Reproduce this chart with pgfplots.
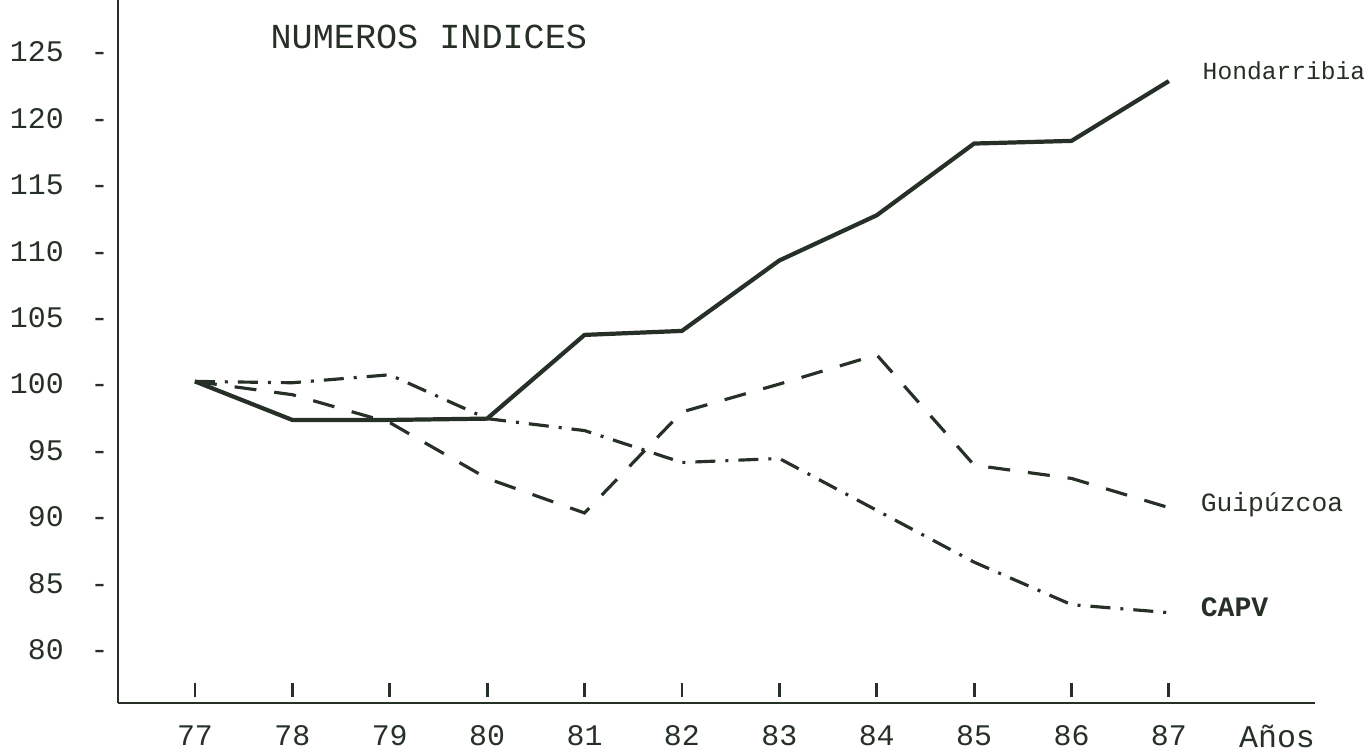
\documentclass[border=0pt]{standalone}
\usepackage{fontspec}
\setmainfont{Liberation Mono}
\usepackage{pgfplots}
\pgfplotsset{compat=1.18}

\definecolor{ink}{RGB}{38,48,38}

\begin{document}
\begin{tikzpicture}
% page = 1364 x 752 px at 0.1 mm per px, axis box origin at px (118,703)
\useasboundingbox (-1.18cm,-0.49cm) rectangle (12.46cm,7.03cm);
\begin{axis}[
    scale only axis,
    width=11.97cm,
    height=7.03cm,
    xmin=76.21, xmax=88.5,
    ymin=76, ymax=128.9,
    axis x line*=bottom,
    axis y line*=left,
    axis line style={ink, line width=0.7pt},
    clip=false,
    xtick={77,...,87},
    ytick={80,85,...,125},
    yticklabels={80\hspace{0.9em}-,85\hspace{0.9em}-,90\hspace{0.9em}-,95\hspace{0.9em}-,100\hspace{0.9em}-,105\hspace{0.9em}-,110\hspace{0.9em}-,115\hspace{0.9em}-,120\hspace{0.9em}-,125\hspace{0.9em}-},
    ytick style={draw=none},
    xtick align=inside,
    major tick length=1.4mm,
    xtick style={ink, line width=0.8pt, yshift=0.6mm},
    /pgf/number format/assume math mode=true,
    tick label style={font=\fontsize{8.5}{10}\selectfont, text=ink},
    xticklabel style={yshift=-1.0mm},
    yticklabel style={xshift=0.3mm},
    every node/.append style={inner sep=0pt},
]
% Hondarribia
\addplot[ink, line width=1.2pt] coordinates {
    (77,100.2) (78,97.3) (79,97.3) (80,97.4) (81,103.7) (82,104.0)
    (83,109.3) (84,112.7) (85,118.1) (86,118.3) (87,122.8)
};
% Guipuzcoa
\addplot[ink, line width=0.9pt, dash pattern=on 2.2mm off 1.8mm] coordinates {
    (77,100.2) (78,99.2) (79,97.1) (80,92.9) (81,90.3) (82,97.9)
    (83,100.0) (84,102.2) (85,93.9) (86,92.9) (87,90.7)
};
% CAPV
\addplot[ink, line width=0.9pt, dash pattern=on 2mm off 1mm on 0.3mm off 1mm] coordinates {
    (77,100.2) (78,100.1) (79,100.7) (80,97.4) (81,96.5) (82,94.1)
    (83,94.4) (84,90.5) (85,86.6) (86,83.4) (87,82.8)
};
\node[anchor=west, text=ink, font=\fontsize{10}{12}\selectfont] at (axis cs:77.65,126.1) {NUMEROS INDICES};
\node[anchor=west, text=ink, font=\fontsize{7}{9}\selectfont] at (axis cs:87.22,123.6) {Hondarribia};
\node[anchor=west, text=ink, font=\fontsize{7.5}{9}\selectfont] at (axis cs:87.2,90.9) {Guipúzcoa};
\node[anchor=west, text=ink, font=\bfseries\fontsize{8}{10}\selectfont] at (axis cs:87.2,83.2) {CAPV};
\node[text=ink, font=\fontsize{9}{10}\selectfont] at (axis cs:88.11,73.5) {Años};
\end{axis}
\end{tikzpicture}
\end{document}
